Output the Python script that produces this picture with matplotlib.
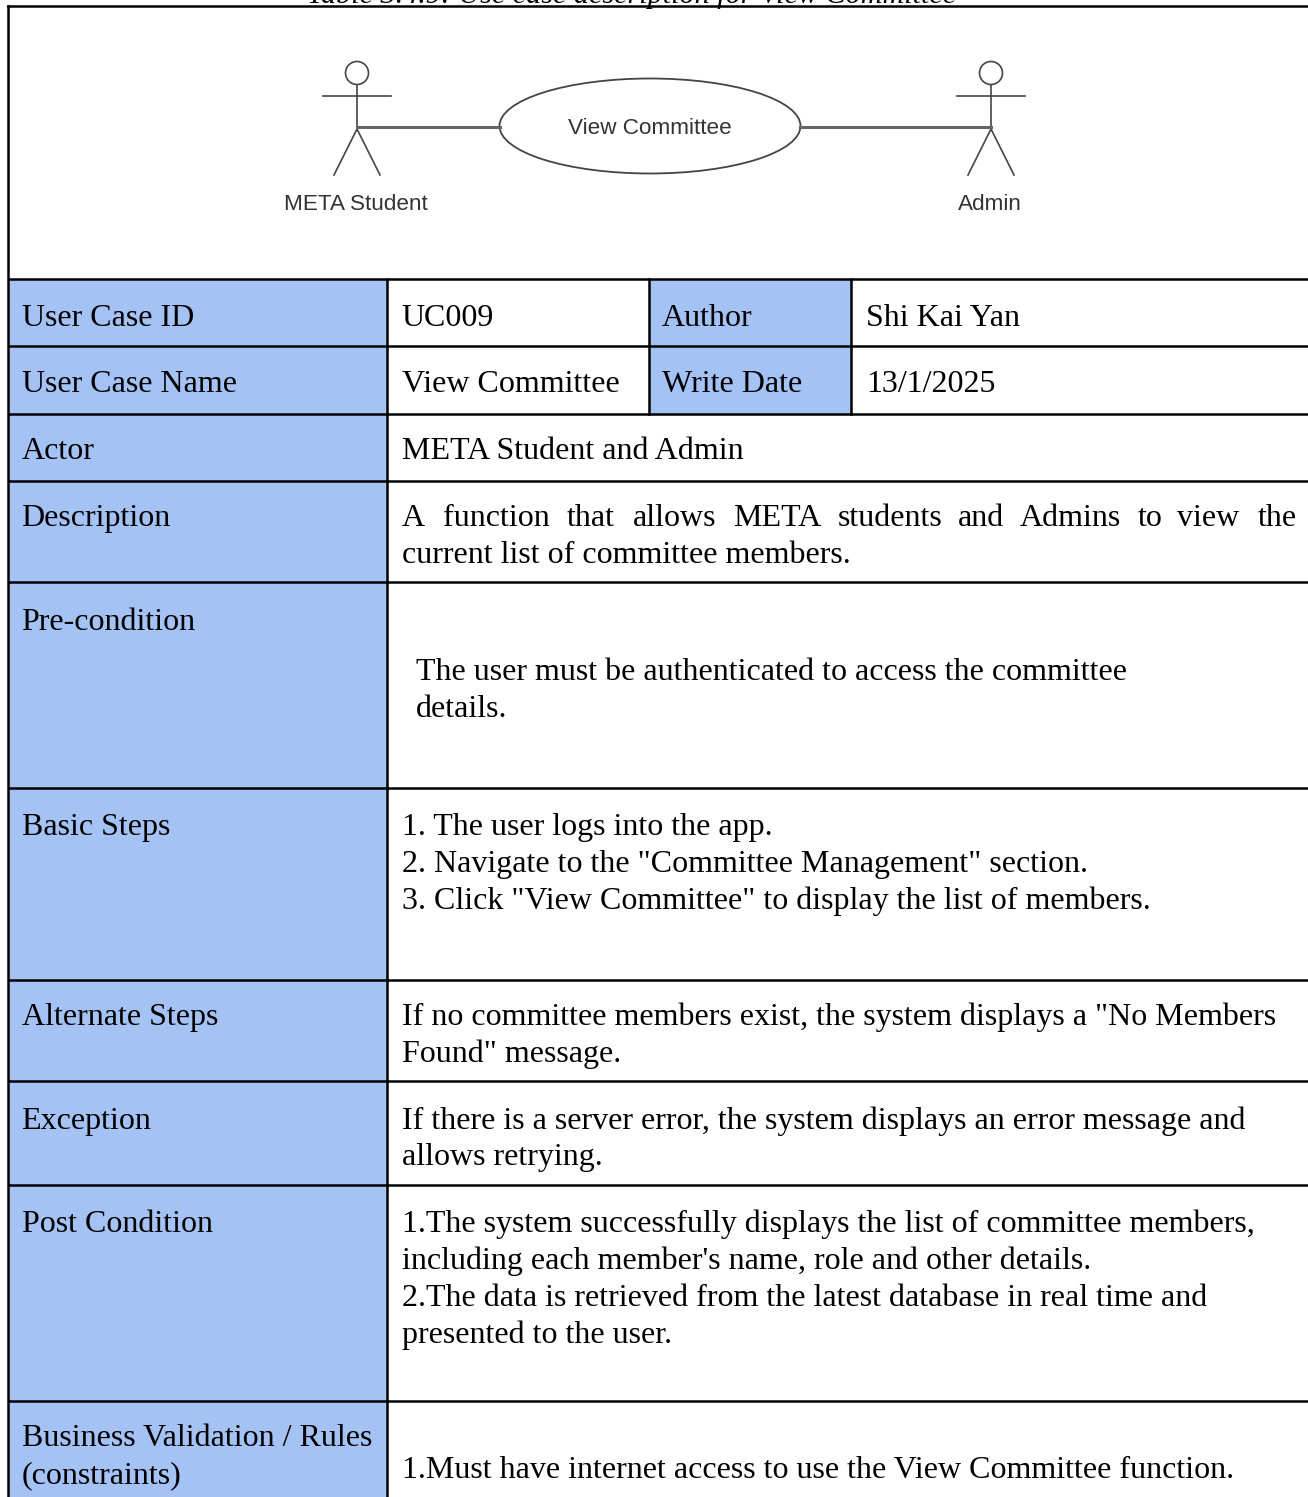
import matplotlib
matplotlib.use("Agg")
import matplotlib.pyplot as plt
from matplotlib.patches import Ellipse, Rectangle

W, H = 1308, 1497

# table layout, in pixels
row_lines = [279, 346, 414, 481, 582, 788, 980, 1081, 1185, 1401, 1497]
col_left, col_split = 8, 387
col_a, col_b = 649, 851

labels = [
    ("User Case ID", 326),
    ("User Case Name", 392),
    ("Actor", 459),
    ("Description", 526),
    ("Pre-condition", 630),
    ("Basic Steps", 835),
    ("Alternate Steps", 1025),
    ("Exception", 1129),
    ("Post Condition", 1232),
    ("Business Validation / Rules", 1446),
    ("(constraints)", 1483),
]

cells = [
    (401, 326, "UC009"),
    (662, 326, "Author"),
    (866, 326, "Shi Kai Yan"),
    (402, 392, "View Committee"),
    (662, 392, "Write Date"),
    (866, 392, "13/1/2025"),
    (402, 459, "META Student and Admin"),
    (402, 563, "current list of committee members."),
    (416, 680, "The user must be authenticated to access the committee"),
    (416, 717, "details."),
    (402, 835, "1. The user logs into the app."),
    (402, 872, '2. Navigate to the "Committee Management" section.'),
    (402, 909, '3. Click "View Committee" to display the list of members.'),
    (402, 1025, 'If no committee members exist, the system displays a "No Members'),
    (402, 1062, 'Found" message.'),
    (402, 1129, "If there is a server error, the system displays an error message and"),
    (402, 1165, "allows retrying."),
    (402, 1232, "1.The system successfully displays the list of committee members,"),
    (402, 1269, "including each member's name, role and other details."),
    (402, 1306, "2.The data is retrieved from the latest database in real time and"),
    (402, 1343, "presented to the user."),
    (402, 1478, "1.Must have internet access to use the View Committee function."),
]

# justified line, words are spread across the cell
just_words = ["A", "function", "that", "allows", "META", "students", "and", "Admins", "to", "view", "the"]
just_x = [402, 443, 567, 633, 733, 838, 958, 1020, 1138, 1177, 1258]
just_y = 526

BLUE = "#a4c2f4"
GREY = "#444444"
FS = 23.02

plt.rcParams["font.family"] = ["Liberation Serif", "DejaVu Serif"]

fig = plt.figure(figsize=(W / 100, H / 100), dpi=100)
ax = fig.add_axes([0, 0, 1, 1])
ax.set_xlim(0, W)
ax.set_ylim(H, 0)
ax.axis("off")

# blue label cells
ax.add_patch(Rectangle((col_left, row_lines[0]), col_split - col_left, H - row_lines[0], fc=BLUE, ec="none"))
ax.add_patch(Rectangle((col_a, row_lines[0]), col_b - col_a, row_lines[2] - row_lines[0], fc=BLUE, ec="none"))

# grid
for y in row_lines[:-1]:
    ax.plot([col_left, W], [y, y], color="black", lw=1.8, solid_capstyle="butt")
ax.plot([col_left, W], [6, 6], color="black", lw=1.8, solid_capstyle="projecting")
ax.plot([col_left, col_left], [6, H], color="black", lw=1.8)
ax.plot([col_split, col_split], [row_lines[0], H], color="black", lw=1.8)
for x in (col_a, col_b):
    ax.plot([x, x], [row_lines[0], row_lines[2]], color="black", lw=1.8)

# caption, cut off by the top of the page
ax.text(632, 3, "Table 3.4.9: Use case description for View Committee", ha="center", va="baseline",
        fontsize=21.7, style="italic", clip_on=False)

# use case diagram
for cx, name in ((357, "META Student"), (991, "Admin")):
    ax.add_patch(Ellipse((cx, 73), 23, 23, fc="white", ec=GREY, lw=1.2))
    ax.plot([cx, cx], [85, 129], color=GREY, lw=1.2)
    ax.plot([cx - 34, cx + 34], [96, 96], color=GREY, lw=1.2)
    ax.plot([cx - 23, cx, cx + 23], [175, 129, 175], color=GREY, lw=1.2)
    ax.text(cx - 1, 205, name, ha="center", va="center", fontsize=16.2, color="#333333", family="Liberation Sans")
ax.plot([357, 500], [126.5, 126.5], color="#666666", lw=2.2)
ax.plot([800, 991], [126.5, 126.5], color="#666666", lw=2.2)
ax.add_patch(Ellipse((650, 126), 301, 95, fc="white", ec=GREY, lw=1.3))
ax.text(650, 128, "View Committee", ha="center", va="center", fontsize=16.2, color="#333333", family="Liberation Sans")

# table text
for s, y in labels:
    ax.text(21.5, y, s, va="baseline", fontsize=FS)
for x, y, s in cells:
    ax.text(x, y, s, va="baseline", fontsize=FS)
for x, s in zip(just_x, just_words):
    ax.text(x, just_y, s, va="baseline", fontsize=FS)

fig.savefig("out.png", dpi=100)
